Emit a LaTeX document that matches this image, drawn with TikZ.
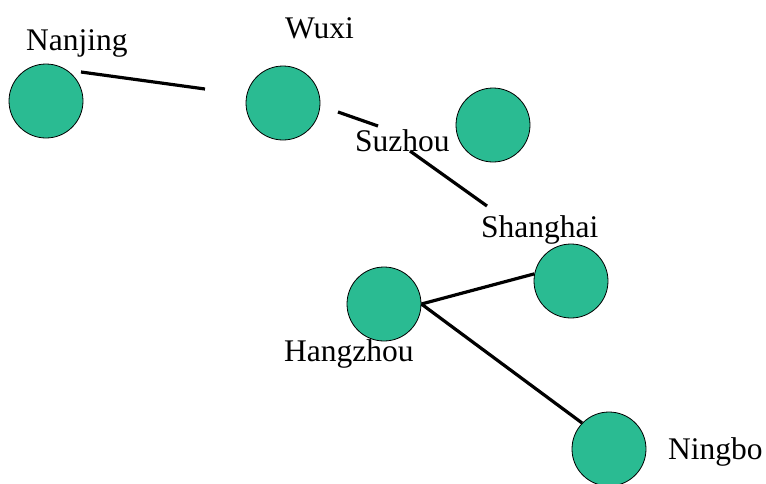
\documentclass[tikz,border=0pt]{standalone}
\usepackage{fontspec}
\setmainfont{Liberation Serif}
\definecolor{citygreen}{RGB}{42,187,146}
\begin{document}
\begin{tikzpicture}[x=1pt,y=-1pt,
    vertex/.style={circle,draw,fill=citygreen,line width=0.8pt,minimum size=74pt,inner sep=0pt},
    city/.style={anchor=base west,inner sep=0pt,font=\fontsize{31.5}{36}\selectfont},
    road/.style={line width=3.2pt}]
    \useasboundingbox (0,0) rectangle (766,483);
    \clip (0,0) rectangle (766,483);

    % Ciudades
    \node[vertex] (nj) at (46,101) {};
    \node[vertex] (wx) at (283,103) {};
    \node[vertex] (sz) at (493,125) {};
    \node[vertex] (sh) at (571,281) {};
    \node[vertex] (hz) at (384,304) {};
    \node[vertex] (nb) at (609,449) {};

    % Nombres
    \node[city] (njl) at (26,50) {Nanjing};
    \node[city] (wxl) at (285,38) {Wuxi};
    \node[city] (szl) at (355,151) {Suzhou};
    \node[city] (shl) at (481,237) {Shanghai};
    \node[city] (hzl) at (284,361) {Hangzhou};
    \node[city] (nbl) at (668,459) {Ningbo};

    % Tramos
    \coordinate (a1) at (81,72);
    \coordinate (a2) at (205,89);
    \coordinate (b1) at (338,112);
    \coordinate (b2) at (378,126);
    \coordinate (c1) at (410,151);
    \coordinate (c2) at (487,206);
    \draw[road] (a1) -- (a2);
    \draw[road] (b1) -- (b2);
    \draw[road] (c1) -- (c2);
    \draw[road] (hz.east) -- (sh.169);
    \draw[road] (hz.east) -- (nb.136);
\end{tikzpicture}
\end{document}
